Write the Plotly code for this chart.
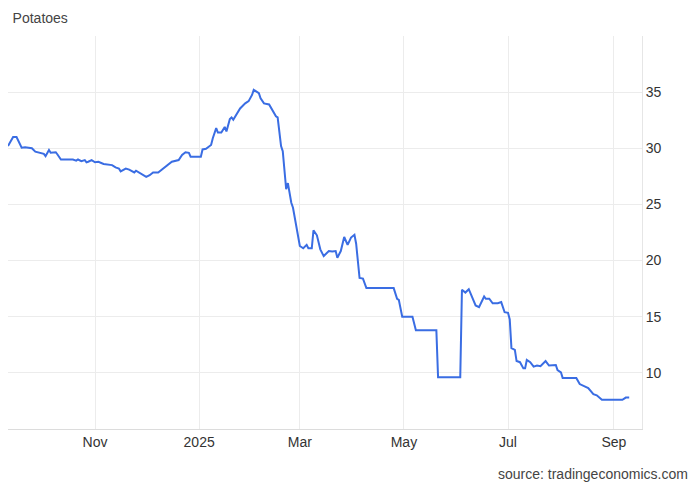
import plotly.graph_objects as go

dates = [
    "2024-09-11", "2024-09-14", "2024-09-16", "2024-09-19", "2024-09-21", "2024-09-25",
    "2024-09-27", "2024-10-02", "2024-10-03", "2024-10-05", "2024-10-06", "2024-10-09",
    "2024-10-10", "2024-10-12", "2024-10-19", "2024-10-21", "2024-10-22", "2024-10-24",
    "2024-10-26", "2024-10-27", "2024-10-28", "2024-10-30", "2024-11-01", "2024-11-03",
    "2024-11-06", "2024-11-08", "2024-11-11", "2024-11-13", "2024-11-15", "2024-11-16",
    "2024-11-19", "2024-11-21", "2024-11-24", "2024-11-25", "2024-11-28", "2024-12-01",
    "2024-12-03", "2024-12-05", "2024-12-08", "2024-12-11", "2024-12-14", "2024-12-16",
    "2024-12-20", "2024-12-22", "2024-12-24", "2024-12-26", "2024-12-27", "2025-01-02",
    "2025-01-03", "2025-01-05", "2025-01-08", "2025-01-09", "2025-01-11", "2025-01-12",
    "2025-01-14", "2025-01-16", "2025-01-17", "2025-01-19", "2025-01-20", "2025-01-21",
    "2025-01-25", "2025-01-28", "2025-01-30", "2025-02-01", "2025-02-02", "2025-02-05",
    "2025-02-06", "2025-02-08", "2025-02-11", "2025-02-13", "2025-02-15", "2025-02-16",
    "2025-02-18", "2025-02-19", "2025-02-21", "2025-02-22", "2025-02-24", "2025-02-25",
    "2025-03-01", "2025-03-03", "2025-03-05", "2025-03-06", "2025-03-08", "2025-03-09",
    "2025-03-11", "2025-03-13", "2025-03-15", "2025-03-18", "2025-03-20", "2025-03-22",
    "2025-03-23", "2025-03-25", "2025-03-27", "2025-03-29", "2025-03-31", "2025-04-02",
    "2025-04-03", "2025-04-05", "2025-04-07", "2025-04-09", "2025-04-25", "2025-04-27",
    "2025-04-28", "2025-04-30", "2025-05-06", "2025-05-08", "2025-05-20", "2025-05-21",
    "2025-06-03", "2025-06-04", "2025-06-06", "2025-06-08", "2025-06-10", "2025-06-12",
    "2025-06-14", "2025-06-17", "2025-06-18", "2025-06-20", "2025-06-22", "2025-06-25",
    "2025-06-27", "2025-06-29", "2025-07-01", "2025-07-02", "2025-07-03", "2025-07-05",
    "2025-07-06", "2025-07-08", "2025-07-10", "2025-07-11", "2025-07-12", "2025-07-14",
    "2025-07-16", "2025-07-18", "2025-07-20", "2025-07-23", "2025-07-25", "2025-07-29",
    "2025-07-30", "2025-08-01", "2025-08-02", "2025-08-10", "2025-08-12", "2025-08-14",
    "2025-08-17", "2025-08-20", "2025-08-22", "2025-08-25", "2025-09-06", "2025-09-08",
    "2025-09-10",
]

prices = [
    30.2, 31.0, 31.0, 30.05, 30.1, 30.0,
    29.7, 29.5, 29.3, 29.85, 29.6, 29.65,
    29.45, 29.0, 29.0, 28.9, 29.0, 28.85,
    28.95, 28.75, 28.8, 28.95, 28.75, 28.8,
    28.6, 28.55, 28.5, 28.3, 28.2, 27.95,
    28.2, 28.1, 27.85, 28.0, 27.7, 27.45,
    27.6, 27.85, 27.85, 28.2, 28.5, 28.8,
    28.95, 29.4, 29.65, 29.6, 29.25, 29.25,
    29.9, 29.95, 30.3, 30.9, 31.8, 31.4,
    31.4, 31.9, 31.5, 32.6, 32.75, 32.55,
    33.55, 34.0, 34.2, 34.75, 35.2, 34.9,
    34.45, 34.0, 33.9, 33.35, 32.85, 32.75,
    30.2, 29.75, 26.35, 26.9, 25.15, 24.7,
    21.3, 21.1, 21.4, 21.1, 21.1, 22.7,
    22.25, 21.0, 20.4, 20.85, 20.8, 20.85,
    20.25, 20.85, 22.1, 21.4, 22.05, 22.3,
    21.5, 18.45, 18.4, 17.55, 17.55, 16.6,
    16.5, 15.0, 15.0, 13.8, 13.8, 9.6,
    9.6, 17.4, 17.15, 17.45, 16.7, 16.0,
    15.85, 16.8, 16.6, 16.6, 16.2, 16.2,
    16.3, 15.4, 15.35, 14.75, 12.2, 12.05,
    11.05, 10.95, 10.4, 10.4, 11.15, 10.95,
    10.55, 10.65, 10.6, 11.05, 10.65, 10.7,
    10.25, 10.05, 9.55, 9.55, 9.0, 8.85,
    8.65, 8.1, 8.0, 7.6, 7.6, 7.8,
    7.8,
]

x_tick_dates = ["2024-11-01", "2025-01-01", "2025-03-01", "2025-05-01", "2025-07-01", "2025-09-01"]
x_tick_labels = ["Nov", "2025", "Mar", "May", "Jul", "Sep"]
y_tick_vals = [5, 10, 15, 20, 25, 30, 35, 40]
y_tick_labels = ["", "10", "15", "20", "25", "30", "35", ""]

fig = go.Figure()

fig.add_trace(go.Scatter(
    x=dates,
    y=prices,
    mode="lines",
    line=dict(color="#3a6de3", width=2),
    name="Potatoes",
    hovertemplate="%{x|%b %d %Y}: %{y:.2f}<extra></extra>",
))

fig.update_layout(
    width=700,
    height=485,
    margin=dict(l=8, r=58, t=36, b=56),
    plot_bgcolor="white",
    paper_bgcolor="white",
    showlegend=False,
    font=dict(family="Liberation Sans, Arial, sans-serif", color="#333333", size=14),
    title=dict(
        text="Potatoes",
        x=0.018, xanchor="left",
        y=0.963, yanchor="middle",
        font=dict(size=14, color="#444444"),
    ),
)

fig.update_xaxes(
    range=["2024-09-11", "2025-09-17 12:00"],
    tickvals=x_tick_dates,
    ticktext=x_tick_labels,
    showgrid=True,
    gridcolor="#ececec",
    gridwidth=1,
    showline=True,
    linecolor="#dcdcdc",
    ticks="",
    tickfont=dict(size=14, color="#333333"),
    zeroline=False,
)

fig.update_yaxes(
    side="right",
    range=[5, 40],
    tickvals=y_tick_vals,
    ticktext=y_tick_labels,
    showgrid=True,
    gridcolor="#ececec",
    gridwidth=1,
    showline=True,
    linecolor="#e6e6e6",
    ticks="",
    tickfont=dict(size=14, color="#333333"),
    zeroline=False,
)

fig.add_annotation(
    text="source: tradingeconomics.com",
    xref="paper", yref="paper",
    x=1.075, y=-0.09,
    xanchor="right", yanchor="top",
    showarrow=False,
    font=dict(size=14, color="#444444"),
)

# page body has a default 8px margin; drop it so the figure fills the window
fig.write_html(
    "out.html",
    config={"displayModeBar": False},
    post_script="document.body.style.margin='0';",
)
